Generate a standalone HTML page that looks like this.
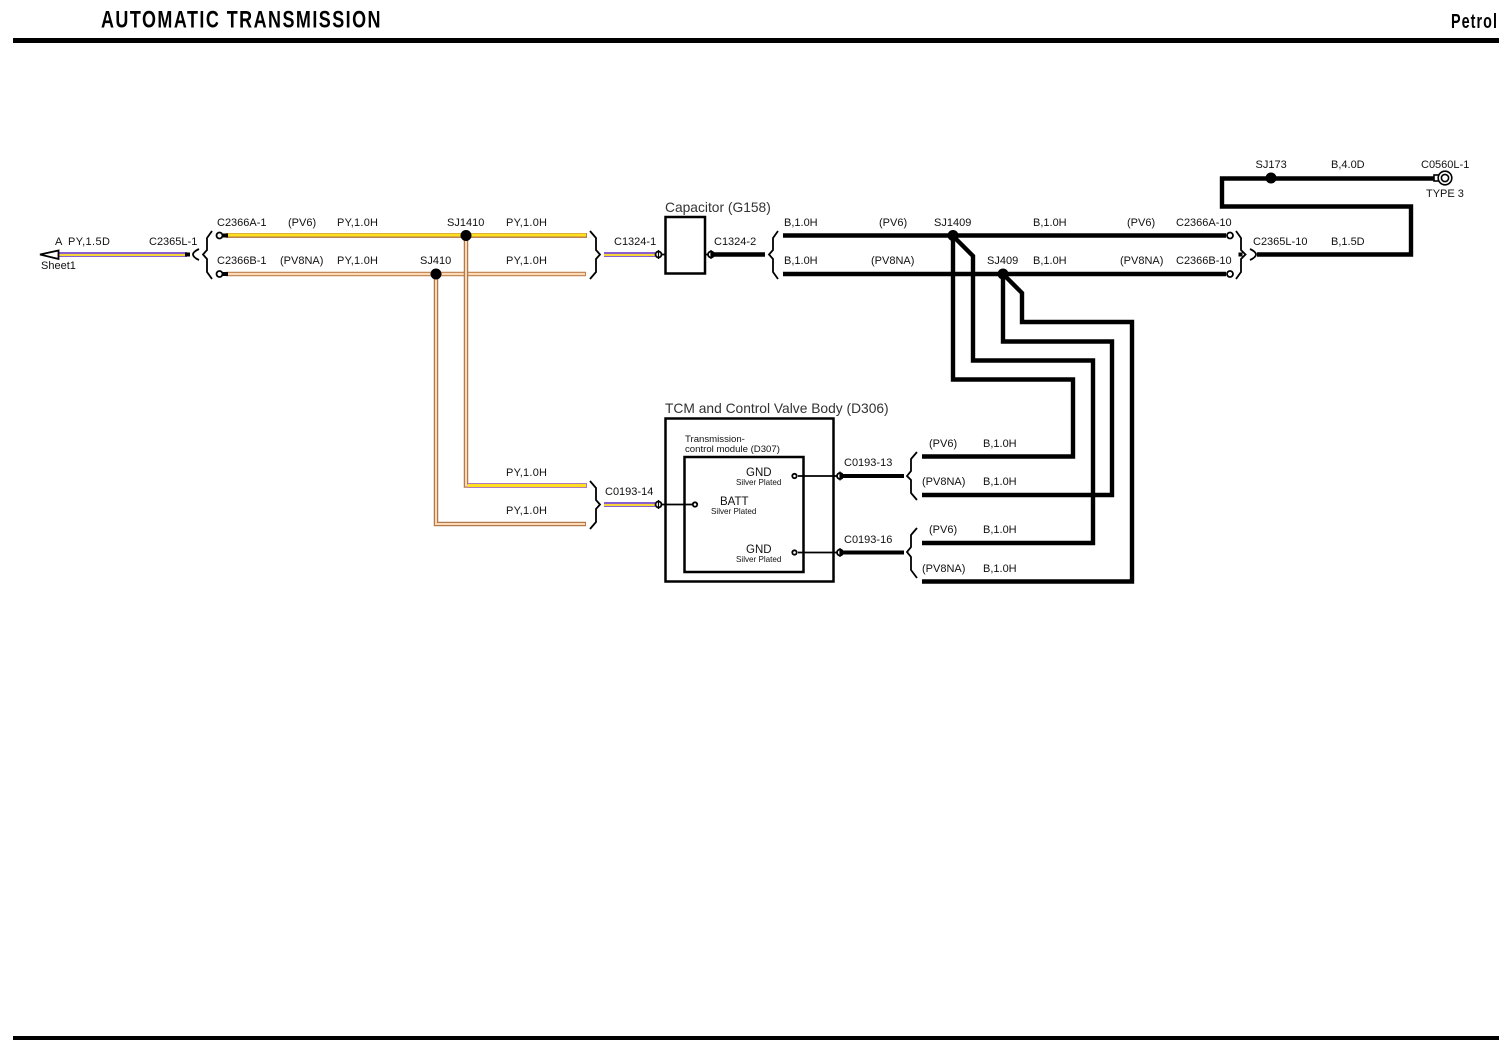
<!DOCTYPE html>
<html>
<head>
<meta charset="utf-8">
<style>
html,body{margin:0;padding:0;background:#fff;width:1507px;height:1044px;overflow:hidden}
svg{display:block}
text{font-family:"Liberation Sans",sans-serif;font-size:11px;fill:#111}
.t{font-weight:bold;font-size:24.5px;fill:#000;letter-spacing:2px}
.p{font-weight:bold;font-size:20.5px;fill:#000;letter-spacing:1.5px}
.b{font-size:13.8px;fill:#333}
.s{font-size:8.1px}
.m{font-size:9.6px}
.g{font-size:11.5px}
.k{fill:none;stroke:#000;stroke-linejoin:miter}
.o{fill:#fff;stroke:#000;stroke-width:1.8}
</style>
</head>
<body>
<svg width="1507" height="1044" viewBox="0 0 1507 1044" xmlns="http://www.w3.org/2000/svg">
<rect x="13" y="38" width="1486" height="5" fill="#000"/>
<rect x="13" y="1036" width="1486" height="4" fill="#000"/>
<text class="t" x="101" y="27.500" textLength="281" lengthAdjust="spacingAndGlyphs">AUTOMATIC TRANSMISSION</text>
<text class="p" x="1451" y="28" textLength="47" lengthAdjust="spacingAndGlyphs">Petrol</text>

<!-- Main purple/yellow wires -->
<g fill="none">
<path d="M58 254.500H187" stroke="#8a5fd0" stroke-width="5"/>
<path d="M58 255H187" stroke="#f5d53a" stroke-width="2"/>
<path d="M604 254.500H655" stroke="#8a5fd0" stroke-width="5"/>
<path d="M604 255H655" stroke="#f5d53a" stroke-width="2"/>
<path d="M604 504.500H655" stroke="#8a5fd0" stroke-width="5"/>
<path d="M604 505H655" stroke="#f5d53a" stroke-width="2"/>

<!-- Tan wires -->
<path d="M226 235.500H587" stroke="#b98250" stroke-width="5"/>
<path d="M226 235H586" stroke="#ffe020" stroke-width="3"/>
<path d="M226 274H586" stroke="#b98250" stroke-width="4.500"/>
<path d="M226 274H585" stroke="#ffd8b4" stroke-width="2.200"/>
<path d="M466 236V485.500H587" stroke="#b07a50" stroke-width="4.500"/>
<path d="M466 236V485.500H587" stroke="#ffd8b4" stroke-width="2"/>
<path d="M468 485.500H587" stroke="#b07ac0" stroke-width="5"/>
<path d="M468 485.500H586" stroke="#ffe020" stroke-width="3"/>
<path d="M436 274V524H586" stroke="#b07a50" stroke-width="4.500"/>
<path d="M436 274V524H585" stroke="#ffd8b4" stroke-width="2"/>
</g>
<rect x="223" y="233.500" width="5" height="4" fill="#000"/>
<rect x="223" y="272" width="5" height="4" fill="#000"/>
<rect x="185" y="252.500" width="5" height="4" fill="#000"/>
<circle cx="219.500" cy="235.500" r="3" class="o"/>
<circle cx="219.500" cy="274" r="3" class="o"/>
<circle cx="466" cy="235.500" r="5.500"/>
<circle cx="436" cy="274" r="5.500"/>

<!-- Arrow -->
<path d="M40 254.500L58.500 250.500V259Z" stroke="#000" fill="#fff" stroke-width="1.800"/>

<!-- Braces -->
<g class="k" stroke-width="1.800">
<path d="M212 231L207 238V250L203 254.500L207 259V272L212 279"/>
<path d="M590 231L596 238V250L600 254.500L596 259V272L590 279"/>
<path d="M778 231L773 238V250L769 254.500L773 259V272L778 279"/>
<path d="M1236 231L1241 238V250L1245.500 254.500L1241 259V272L1236 279"/>
<path d="M590 481L596 488V500L600 504.500L596 509V522L590 529"/>
<path d="M917 452L911 459V471L907 476L911 480V493L917 500"/>
<path d="M917 528L911 535V547L907 552L911 557V570L917 578"/>
<path d="M199 249Q187 254.500 199 260"/>
<path d="M1250 249Q1262 254.500 1250 260"/>
</g>

<!-- Capacitor & TCM -->
<rect x="665.500" y="217" width="39.500" height="56.500" class="k" stroke-width="2.500"/>
<rect x="665.500" y="418.500" width="168" height="163" class="k" stroke-width="2.500"/>
<rect x="684.500" y="457" width="119" height="115" class="k" stroke-width="2.500"/>

<!-- Black wires -->
<g class="k" stroke-linecap="butt">
<path d="M711 254.500H765" stroke-width="4.400"/>
<path d="M783 235.500H1226" stroke-width="4.400"/>
<path d="M783 274H1226" stroke-width="4.400"/>
<path d="M840 476H904" stroke-width="4"/>
<path d="M840 552.500H904" stroke-width="4"/>
<path d="M953 236V379.500H1073V456.500H922" stroke-width="4.400"/>
<path d="M953 236L973 256V360.500H1093V543H922" stroke-width="4.400"/>
<path d="M1003 274V341.500H1112V495H922" stroke-width="4.400"/>
<path d="M1003 274L1022 293V322H1132V581.500H922" stroke-width="4.400"/>
<path d="M1257 254.500H1411V206.500H1222V178.500H1434" stroke-width="4.400"/>
</g>
<circle cx="953" cy="235.500" r="5.500"/>
<circle cx="1003" cy="274" r="5.500"/>
<circle cx="1271" cy="178" r="5.500"/>
<circle cx="1230" cy="235.500" r="3" class="o"/>
<circle cx="1230" cy="274" r="3" class="o"/>
<rect x="1238.500" y="252.500" width="4" height="4" fill="#000"/>

<!-- Pin connectors -->
<g class="k" stroke-width="1.800">
<circle cx="658.500" cy="254.500" r="3"/>
<circle cx="711" cy="254.500" r="3"/>
<circle cx="658.500" cy="504.500" r="3"/>
<circle cx="840" cy="476" r="3"/>
<circle cx="840" cy="552.500" r="3"/>
<path d="M658.500 250V259M711 250V259M658.500 500V509M840 471.500V480.500M840 548V557" stroke-width="1.200"/>
<path d="M661 254.500H665M705 254.500H708"/>
<path d="M662 504.500H695M798 476H837M798 552.500H837"/>
</g>
<circle cx="695" cy="504.500" r="2.200" class="o"/>
<circle cx="794.500" cy="476" r="2.200" class="o"/>
<circle cx="794.500" cy="552.500" r="2.200" class="o"/>

<!-- Ground terminal -->
<rect x="1434" y="175" width="5" height="6" fill="#fff" stroke="#000" stroke-width="1.600"/>
<circle cx="1445" cy="178" r="6.800" fill="#fff" stroke="#000" stroke-width="1.600"/>
<circle cx="1445" cy="178" r="3.600" fill="#fff" stroke="#000" stroke-width="1.600"/>

<!-- Labels -->
<text x="55" y="245">A</text>
<text x="68" y="245" textLength="42">PY,1.5D</text>
<text x="41" y="269">Sheet1</text>
<text x="149" y="245">C2365L-1</text>
<text x="217" y="226">C2366A-1</text>
<text x="288" y="226">(PV6)</text>
<text x="337" y="226" textLength="41">PY,1.0H</text>
<text x="447" y="226">SJ1410</text>
<text x="506" y="226" textLength="41">PY,1.0H</text>
<text x="217" y="264">C2366B-1</text>
<text x="280" y="264">(PV8NA)</text>
<text x="337" y="264" textLength="41">PY,1.0H</text>
<text x="420" y="264">SJ410</text>
<text x="506" y="264" textLength="41">PY,1.0H</text>
<text x="614" y="245">C1324-1</text>
<text x="714" y="245">C1324-2</text>
<text class="b" x="665" y="212">Capacitor (G158)</text>
<text x="784" y="226">B,1.0H</text>
<text x="879" y="226">(PV6)</text>
<text x="934" y="226">SJ1409</text>
<text x="1033" y="226">B,1.0H</text>
<text x="1127" y="226">(PV6)</text>
<text x="1176" y="226">C2366A-10</text>
<text x="784" y="264">B,1.0H</text>
<text x="871" y="264">(PV8NA)</text>
<text x="987" y="264">SJ409</text>
<text x="1033" y="264">B,1.0H</text>
<text x="1120" y="264">(PV8NA)</text>
<text x="1176" y="264">C2366B-10</text>
<text x="1253" y="245">C2365L-10</text>
<text x="1331" y="245">B,1.5D</text>
<text x="1255.500" y="168">SJ173</text>
<text x="1331" y="168">B,4.0D</text>
<text x="1421" y="168">C0560L-1</text>
<text x="1426" y="197">TYPE 3</text>
<text x="506" y="476" textLength="41">PY,1.0H</text>
<text x="506" y="514" textLength="41">PY,1.0H</text>
<text x="605" y="495">C0193-14</text>
<text class="b" x="665" y="413">TCM and Control Valve Body (D306)</text>
<text class="m" x="685" y="442">Transmission-</text>
<text class="m" x="685" y="452">control module (D307)</text>
<text class="g" x="746" y="476">GND</text>
<text class="s" x="736" y="485">Silver Plated</text>
<text class="g" x="720" y="505">BATT</text>
<text class="s" x="711" y="514">Silver Plated</text>
<text class="g" x="746" y="553">GND</text>
<text class="s" x="736" y="562">Silver Plated</text>
<text x="844" y="466">C0193-13</text>
<text x="844" y="543">C0193-16</text>
<text x="929" y="447">(PV6)</text>
<text x="983" y="447">B,1.0H</text>
<text x="922" y="485">(PV8NA)</text>
<text x="983" y="485">B,1.0H</text>
<text x="929" y="533">(PV6)</text>
<text x="983" y="533">B,1.0H</text>
<text x="922" y="572">(PV8NA)</text>
<text x="983" y="572">B,1.0H</text>
</svg>
</body>
</html>
